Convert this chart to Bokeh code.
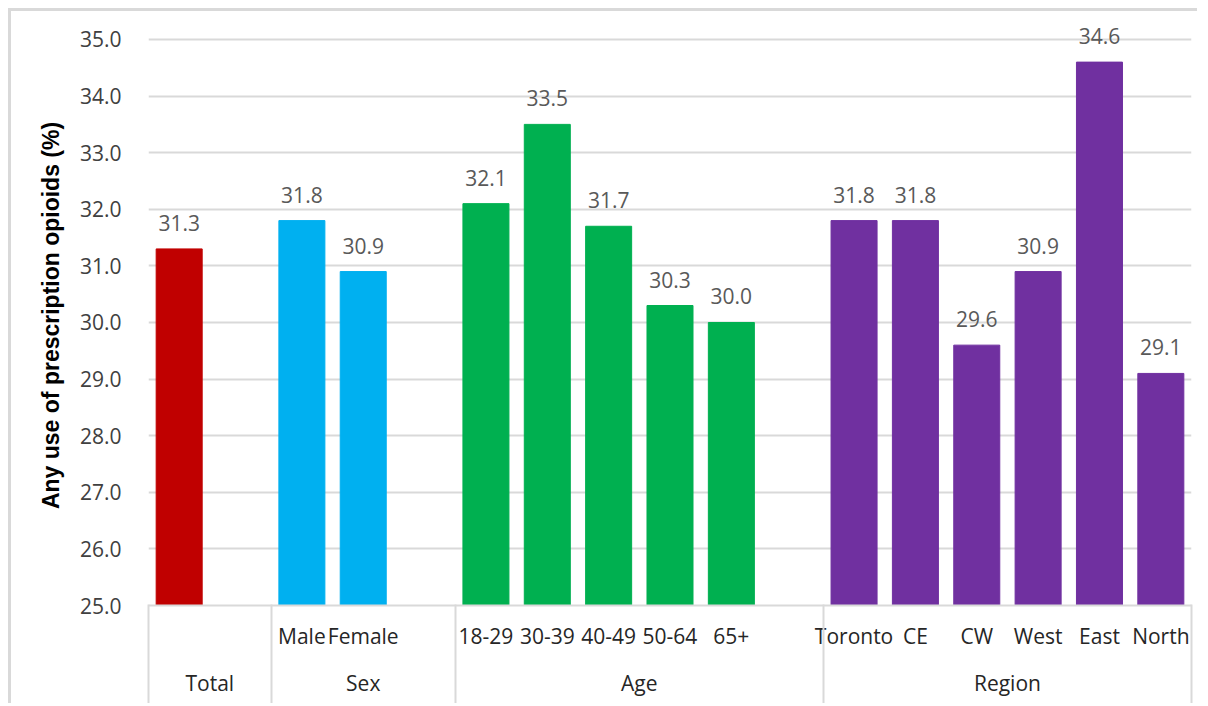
from bokeh.plotting import figure
from bokeh.models import (ColumnDataSource, FixedTicker, LinearAxis, Range1d,
                          PrintfTickFormatter, CustomJSTickFormatter)
from bokeh.core.properties import value
from bokeh.embed import file_html
from bokeh.resources import INLINE

# ---- data ----
groups = ["Total", "Sex", "Age", "Region"]
group_sizes = [1, 2, 5, 6]
group_colors = ["#C00000", "#00B0F0", "#00B050", "#7030A0"]
sub_labels = ["", "Male", "Female", "18-29", "30-39", "40-49", "50-64", "65+",
              "Toronto", "CE", "CW", "West", "East", "North"]
values = [31.3, 31.8, 30.9, 32.1, 33.5, 31.7, 30.3, 30.0,
          31.8, 31.8, 29.6, 30.9, 34.6, 29.1]
y_ticks = [25.0, 26.0, 27.0, 28.0, 29.0, 30.0, 31.0, 32.0, 33.0, 34.0, 35.0]
y_title = "Any use of prescription opioids (%)"

# ---- slot layout (one blank slot after every group but the last) ----
xs, colors, centers, bounds = [], [], [], [-0.5]
pos = 0
for gi, size in enumerate(group_sizes):
    start = pos
    for k in range(size):
        xs.append(pos)
        colors.append(group_colors[gi])
        pos += 1
    if gi < len(group_sizes) - 1:
        pos += 1
    end = pos - 1
    centers.append((start + end) / 2.0)
    bounds.append(end + 0.5)

src = ColumnDataSource(dict(x=xs, top=values, color=colors,
                            label=["%.1f" % v for v in values]))

FONT = "Open Sans"
GRID = "#d9d9d9"

p = figure(width=1189, height=695, x_range=Range1d(-0.5, bounds[-1]),
           y_range=Range1d(25, 35.247), output_backend="svg",
           toolbar_location=None, x_axis_location=None,
           min_border_left=137, min_border_right=9, min_border_top=14,
           min_border_bottom=101)
p.margin = (8, 0, 0, 8)
p.outline_line_color = None
p.styles = {"border-left": "3px solid #d9d9d9", "border-top": "3px solid #d9d9d9"}

p.vbar(x="x", top="top", bottom=25, width=0.75, color="color", source=src)
p.text(x="x", y="top", text="label", source=src, text_align="center",
       text_baseline="alphabetic", y_offset=-26, text_font=value(FONT),
       text_font_size="21px", text_color="#595959")

# y axis
ya = p.yaxis[0]
ya.ticker = FixedTicker(ticks=y_ticks)
ya.formatter = PrintfTickFormatter(format="%.1f")
ya.axis_line_color = None
ya.major_tick_line_color = None
ya.minor_tick_line_color = None
ya.major_label_text_font = FONT
ya.major_label_text_font_size = "21px"
ya.major_label_text_color = "#404040"
ya.major_label_standoff = 21
ya.axis_label = y_title
ya.axis_label_text_font = "Liberation Sans"
ya.axis_label_text_font_style = "bold"
ya.axis_label_text_font_size = "23px"
ya.axis_label_text_color = "#000000"
ya.axis_label_standoff = 13

p.ygrid.grid_line_color = GRID
p.ygrid.grid_line_width = 2
p.xgrid.grid_line_color = None

def label_formatter(ticks, labels):
    return CustomJSTickFormatter(args=dict(ts=ticks, ls=labels), code="""
        for (let i = 0; i < ts.length; i++) {
            if (Math.abs(ts[i] - tick) < 1e-6) return ls[i];
        }
        return "";
    """)

# category labels
ax1 = LinearAxis(ticker=FixedTicker(ticks=xs),
                 formatter=label_formatter(xs, sub_labels),
                 axis_line_color=GRID, axis_line_width=2,
                 major_tick_line_color=None, minor_tick_line_color=None,
                 major_label_text_font=FONT, major_label_text_font_size="21px",
                 major_label_text_color="#262626", major_label_standoff=10)
# group labels
ax2 = LinearAxis(ticker=FixedTicker(ticks=centers),
                 formatter=label_formatter(centers, groups),
                 axis_line_color=None,
                 major_tick_line_color=None, minor_tick_line_color=None,
                 major_label_text_font=FONT, major_label_text_font_size="21px",
                 major_label_text_color="#262626", major_label_standoff=10)
# group separators
ax3 = LinearAxis(ticker=FixedTicker(ticks=bounds),
                 formatter=label_formatter([], []),
                 axis_line_color=None,
                 major_tick_line_color=GRID, major_tick_line_width=2,
                 major_tick_in=95, major_tick_out=6,
                 minor_tick_line_color=None,
                 major_label_text_font_size="0px", major_label_standoff=0)
p.add_layout(ax1, "below")
p.add_layout(ax2, "below")
p.add_layout(ax3, "below")

open("out.html", "w").write(file_html(p, INLINE))
